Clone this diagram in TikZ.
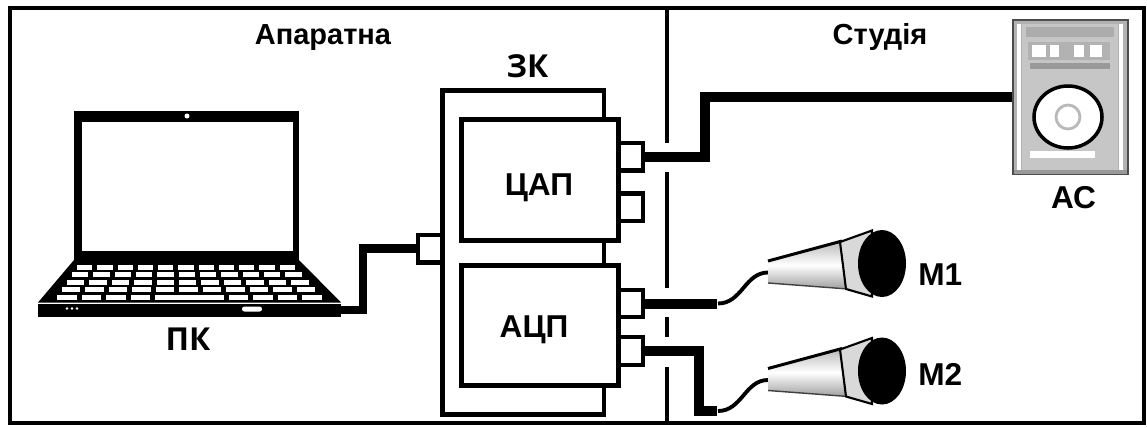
\documentclass[tikz,border=0pt]{standalone}
\usepackage{fontspec}
\setmainfont{Liberation Sans}
\newfontfamily\pcfont{Open Sans}
\usetikzlibrary{positioning,calc}

\begin{document}
\begin{tikzpicture}[x=0.02cm, y=-0.02cm,
    unit/.style={rectangle, draw=black, fill=white, line width=2.5pt, inner sep=0pt},
    port/.style={unit, minimum width=0.49cm, minimum height=0.55cm},
    cable/.style={line width=5.7pt, line join=miter},
    cord/.style={line width=2.2pt},
    tag/.style={font=\bfseries\fontsize{18}{18}\selectfont, inner sep=0pt, anchor=base},
    room/.style={font=\bfseries\fontsize{16.5}{16.5}\selectfont, inner sep=0pt, anchor=base},
    devname/.style={font=\pcfont\bfseries\fontsize{18}{18}\selectfont, inner sep=0pt, anchor=base},
    mic/.pic={
        % cord from the handle
        \draw[cord] (-112,9) .. controls (-135,9) and (-138,40) .. (-162,40);
        \coordinate (-plug) at (-163,40);
        % handle
        \shade[top color=gray!55, bottom color=gray!75, middle color=white]
            (-112,-2.5) -- (-38,-22.5) -- (-32,25.5) -- (-112,19.5) -- cycle;
        \draw[line width=1.7pt] (-112,-2.5) -- (-38,-22.5);
        \draw[gray!50!black, line width=0.8pt] (-112,19.5) -- (-32,25.5);
        % ring and head
        \filldraw[fill=gray!30, draw=black, line width=1.2pt]
            (-40,-21.5) -- (-8,-33) -- (-8,33) -- (-34,25.5) -- cycle;
        \fill (2,0) ellipse [x radius=24, y radius=33.5];
    }
]
    \useasboundingbox (0,0) rectangle (1147,427);

    % frame and wall
    \draw[line width=2.2pt] (10,8) rectangle (1144,423);
    \foreach \ya/\yb in {8/143, 172/288, 317/337, 367/423}
        \draw[line width=2.3pt] (667,\ya) -- (667,\yb);

    % laptop
    \fill (74,111) rectangle (299,260);
    \fill[white] (82,122) rectangle (293,251);
    \fill[white] (187,116) circle [radius=2.5];
    \fill (74,260) -- (299,260) -- (341,302.5) -- (38,302.5) -- cycle;
    \fill (38,304) rectangle (341,317);
    \foreach \x in {67,72,77}
        \fill[white] (\x,308.5) circle [radius=1.3];
    \fill[white, rounded corners=1.4pt] (242,306.5) rectangle (262,311.5);
    \foreach \i in {0,...,4} {
        \pgfmathsetmacro\yc{267+7.5*\i}
        \pgfmathsetmacro\xl{77-5*\i}
        \pgfmathsetmacro\xr{295+6.75*\i}
        \pgfmathsetmacro\cw{(\xr-\xl+5)/11}
        \foreach \j in {0,...,10}
            \fill[white] (\xl+\j*\cw,\yc-2.5) rectangle ++(\cw-5,5);
    }
    \fill[white] (155.2,294.5) rectangle (223.8,299.5);
    \coordinate (pcport) at (341,310);

    % sound card
    \node[unit, minimum width=3.23cm, minimum height=6.48cm] (zk) at (523.25,252.5) {};
    \node[unit, minimum width=3.14cm, minimum height=2.42cm] (dac) at (540,180) {};
    \node[unit, minimum width=3.14cm, minimum height=2.40cm] (adc) at (540,325.5) {};
    \node[port] (zin) at (430,248.75) {};
    \node[port] (dout1) at (630.75,156.75) {};
    \node[port] (dout2) at (630.75,207.25) {};
    \node[port] (ain1) at (630.75,303.5) {};
    \node[port] (ain2) at (630.75,351) {};

    % speaker
    \node[rectangle, draw=gray!60!black, fill=gray!60, line width=0.6pt, inner sep=0pt,
          minimum width=2.3cm, minimum height=3.08cm] (ac) at (1070.5,97) {};
    \fill[white] (1017,24) rectangle (1021,171);
    \fill[white] (1119,24) rectangle (1123,171);
    \fill[gray!45] (1022,24) rectangle (1118,170);
    \fill[gray!65] (1026,27) rectangle (1114,37);
    \fill[gray!60] (1028,42) rectangle (1110,60);
    \foreach \a/\b in {1032/1046, 1050/1059, 1074/1084, 1090/1102}
        \fill[white] (\a,45) rectangle (\b,57);
    \fill[gray!80] (1030,63) rectangle (1110,69);
    \filldraw[fill=white, draw=black, line width=2pt] (1068,117) ellipse [x radius=34, y radius=31];
    \draw[gray!55, line width=1.6pt] (1068,117) circle [radius=12];
    \fill[white] (1030,151) rectangle (1095,158);
    \fill[gray!80] (1014,170) rectangle (1127,174);

    % microphones
    \pic (m1) at (880,263.5) {mic};
    \pic (m2) at (880,371) {mic};

    % cables
    \draw[cable, line width=5.1pt] (pcport) -- ++(22,0) |- (zin.west);
    \draw[cable] (dout1.east) -- ++(60,0) |- (ac.west);
    \draw[cable] (ain1.east) -- (m1-plug);
    \draw[cable] (ain2.east) -- ++(54,0) |- (m2-plug);

    % labels
    \node[room] at (323,44) {Апаратна};
    \node[room] at (880,44) {Студія};
    \node[devname] at (527.5,77) {ЗК};
    \node[devname] at (188,350) {ПК};
    \node[tag] at ($(dac)+(-1,15)$) {ЦАП};
    \node[tag] at ($(adc)+(-6,11.5)$) {АЦП};
    \node[tag] at (1073.5,208) {АС};
    \node[tag, anchor=base west] at (918,285) {M1};
    \node[tag, anchor=base west] at (918,385) {M2};
\end{tikzpicture}
\end{document}
